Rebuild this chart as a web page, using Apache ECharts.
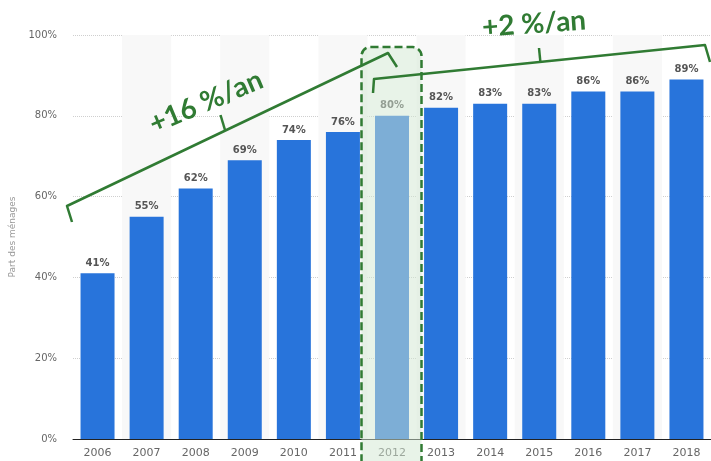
<!DOCTYPE html>
<html>
<head>
<meta charset="utf-8">
<script src="https://cdn.jsdelivr.net/npm/echarts@6/dist/echarts.min.js"></script>
<style>
  html, body { margin: 0; padding: 0; background: #fff; }
  #chart { width: 711px; height: 461px; }
</style>
</head>
<body>
<div id="chart"></div>
<script>
// Part des ménages équipés, par année
const years = ['2006', '2007', '2008', '2009', '2010', '2011', '2012', '2013', '2014', '2015', '2016', '2017', '2018'];
const shares = [41, 55, 62, 69, 74, 76, 80, 82, 83, 83, 86, 86, 89];
const yTicks = [0, 20, 40, 60, 80, 100];
const highlightYear = '2012';
const trendLabels = ['+16 %/an', '+2 %/an'];
const axisTitle = 'Part des ménages';

const GREEN = '#307b33';
const chart = echarts.init(document.getElementById('chart'), null, { renderer: 'canvas' });

chart.setOption({
  animation: false,
  backgroundColor: '#ffffff',
  grid: { left: 71, right: -1, top: 35, bottom: 22, containLabel: false },
  xAxis: {
    type: 'category',
    data: years,
    boundaryGap: true,
    axisLine: { show: true, lineStyle: { color: '#222', width: 1 } },
    axisTick: { show: false },
    splitArea: { show: true, areaStyle: { color: ['rgba(255,255,255,0)', '#f8f8f8'] } },
    axisLabel: {
      color: '#666', fontSize: 11, fontFamily: 'DejaVu Sans', margin: 9
    }
  },
  yAxis: {
    type: 'value',
    min: yTicks[0],
    max: yTicks[yTicks.length - 1],
    interval: yTicks[1] - yTicks[0],
    name: axisTitle,
    nameLocation: 'middle',
    nameGap: 56,
    nameTextStyle: { color: '#999', fontSize: 9, fontFamily: 'DejaVu Sans' },
    axisLine: { show: false },
    axisTick: { show: false },
    axisLabel: {
      color: '#666', fontSize: 10, fontFamily: 'DejaVu Sans', margin: 16,
      formatter: v => v + '%'
    },
    splitLine: { show: true, lineStyle: { color: '#cfcfcf', type: [1, 1], width: 1 } }
  },
  series: [{
    type: 'bar',
    data: shares,
    barWidth: 34,
    itemStyle: { color: '#2874db' },
    label: {
      show: true, position: 'top', distance: 5,
      color: '#555', fontSize: 10, fontWeight: 'bold', fontFamily: 'DejaVu Sans',
      formatter: p => p.value + '%'
    },
    z: 2
  }]
});

// Annotations: highlighted year, trend braces and their rates
const cx = chart.convertToPixel({ xAxisIndex: 0 }, highlightYear);
const slope = (a, b) => Math.atan2(a[1] - b[1], b[0] - a[0]);

chart.setOption({
  graphic: [
    {
      type: 'rect', z: 20,
      shape: { x: cx - 30.5, y: 47, width: 60, height: 440, r: 9 },
      style: { fill: 'rgba(209,231,209,0.5)', stroke: GREEN, lineWidth: 2.5, lineDash: [8, 4] }
    },
    {
      type: 'polyline', z: 30,
      shape: { points: [[72, 222], [67, 206], [388, 53], [397, 67]] },
      style: { stroke: GREEN, lineWidth: 2.5, fill: null, lineJoin: 'round' }
    },
    {
      type: 'polyline', z: 30,
      shape: { points: [[225, 130], [220.5, 115]] },
      style: { stroke: GREEN, lineWidth: 2.5, fill: null }
    },
    {
      type: 'polyline', z: 30,
      shape: { points: [[373, 93], [374, 79], [705, 45], [710, 62]] },
      style: { stroke: GREEN, lineWidth: 2.5, fill: null, lineJoin: 'round' }
    },
    {
      type: 'polyline', z: 30,
      shape: { points: [[540.5, 63], [539, 48]] },
      style: { stroke: GREEN, lineWidth: 2.5, fill: null }
    },
    {
      type: 'text', z: 30,
      x: 206, y: 102, rotation: 23 * Math.PI / 180,
      style: {
        text: trendLabels[0], fill: GREEN, font: 'bold 28px Lato',
        align: 'center', verticalAlign: 'middle'
      }
    },
    {
      type: 'text', z: 30,
      x: 534, y: 24, rotation: 4 * Math.PI / 180,
      style: {
        text: trendLabels[1], fill: GREEN, font: 'bold 28px Lato',
        align: 'center', verticalAlign: 'middle'
      }
    }
  ]
});
</script>
</body>
</html>
